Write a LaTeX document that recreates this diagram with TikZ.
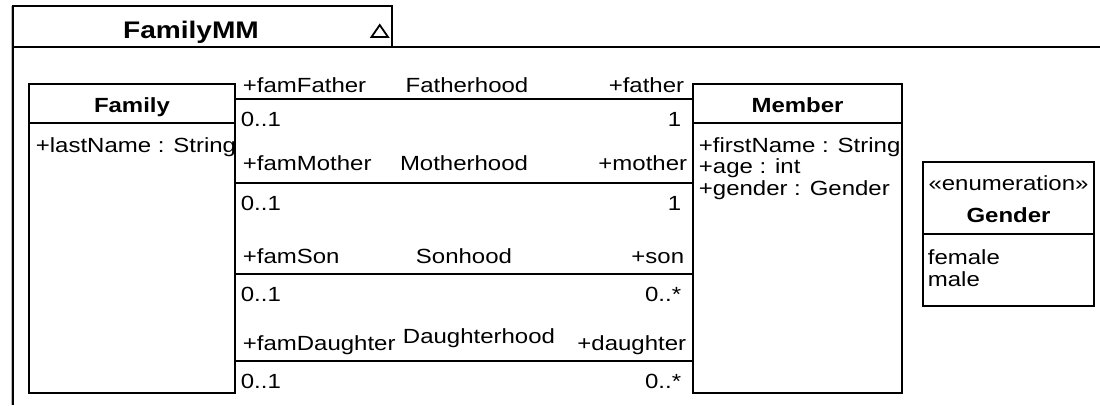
\documentclass[tikz,border=0pt]{standalone}
\usepackage{fontspec}
\setmainfont[FakeStretch=1.17]{Liberation Sans}
\begin{document}
\begin{tikzpicture}[x=1bp,y=-1bp,line width=1.8bp,
  txt/.style={inner sep=0pt,font=\fontsize{20.5bp}{21.5bp}\selectfont},
  bname/.style={inner sep=0pt,font=\fontsize{20.5bp}{21.5bp}\selectfont\bfseries},
  classbox/.style={draw,rectangle,inner sep=0pt,outer sep=0pt,anchor=north west}]
\useasboundingbox (0,0) rectangle (1100,405);

% package frame with its name tab
\draw[gray!55,line width=1bp] (11.5,6) -- (11.5,405);
\node[classbox,minimum width=379bp,minimum height=41bp] (tab) at (13,6) {};
\draw (tab.south west) -- (tab.south west -| 1100,0);
\draw[line width=2bp] (tab.north west) -- (tab.north west |- 0,405);
\node[inner sep=0pt,anchor=base,font=\fontsize{24bp}{26bp}\selectfont\bfseries] (pkgname) at (191,38) {FamilyMM};
\draw[line width=1.8bp,line join=miter] (371.5,37) -- (388,37) -- (379.75,25) -- cycle;

% classes
\node[classbox,minimum width=206bp,minimum height=309bp] (family) at (29,84) {};
\node[classbox,minimum width=209bp,minimum height=309bp] (member) at (693,84) {};
\node[classbox,minimum width=171bp,minimum height=144bp] (gender) at (923,162) {};

\draw ([yshift=-39bp]family.north west) -- ([yshift=-39bp]family.north east);
\draw ([yshift=-39bp]member.north west) -- ([yshift=-39bp]member.north east);
\draw ([yshift=-72bp]gender.north west) -- ([yshift=-72bp]gender.north east);

\node[bname,anchor=base] (familyname) at (132,112) {Family};
\node[txt,anchor=base west] (lastname) at (35,152) {+lastName : String};

\node[bname,anchor=base] (membername) at (797.5,112) {Member};
\node[txt,anchor=base west] (firstname) at (698,152) {+firstName : String};
\node[txt,anchor=base west] (age) at (698,173.5) {+age : int};
\node[txt,anchor=base west] (gend) at (698,195) {+gender : Gender};

\node[txt,anchor=base] (stereo) at (1008.5,190) {«enumeration»};
\node[bname,anchor=base] (gendername) at (1008.5,222) {Gender};
\node[txt,anchor=base west] (female) at (927,264) {female};
\node[txt,anchor=base west] (male) at (927,286) {male};

% associations between Family and Member
\draw ([yshift=-15bp]family.north east) -- ([yshift=-15bp]member.north west);
\draw ([yshift=-99bp]family.north east) -- ([yshift=-99bp]member.north west);
\draw ([yshift=-190bp]family.north east) -- ([yshift=-190bp]member.north west);
\draw ([yshift=-277bp]family.north east) -- ([yshift=-277bp]member.north west);

% Fatherhood
\node[txt,anchor=base west] (famfather) at (242,92) {+famFather};
\node[txt,anchor=base] (fatherhood) at (467,92) {Fatherhood};
\node[txt,anchor=base east] (father) at (685,92) {+father};
\node[txt,anchor=base west] (m1a) at (240,126) {0..1};
\node[txt,anchor=base east] (m1b) at (682,126) {1};

% Motherhood
\node[txt,anchor=base west] (fammother) at (242,170) {+famMother};
\node[txt,anchor=base] (motherhood) at (464,170) {Motherhood};
\node[txt,anchor=base east] (mother) at (688,170) {+mother};
\node[txt,anchor=base west] (m2a) at (240,210) {0..1};
\node[txt,anchor=base east] (m2b) at (682,210) {1};

% Sonhood
\node[txt,anchor=base west] (famson) at (242,263) {+famSon};
\node[txt,anchor=base] (sonhood) at (464,263) {Sonhood};
\node[txt,anchor=base east] (son) at (685,263) {+son};
\node[txt,anchor=base west] (m3a) at (240,301) {0..1};
\node[txt,anchor=base east] (m3b) at (682,301) {0..*};

% Daughterhood
\node[txt,anchor=base west] (famdaughter) at (242,350) {+famDaughter};
\node[txt,anchor=base] (daughterhood) at (479,343) {Daughterhood};
\node[txt,anchor=base east] (daughter) at (687,350) {+daughter};
\node[txt,anchor=base west] (m4a) at (240,388) {0..1};
\node[txt,anchor=base east] (m4b) at (682,388) {0..*};
\end{tikzpicture}
\end{document}
